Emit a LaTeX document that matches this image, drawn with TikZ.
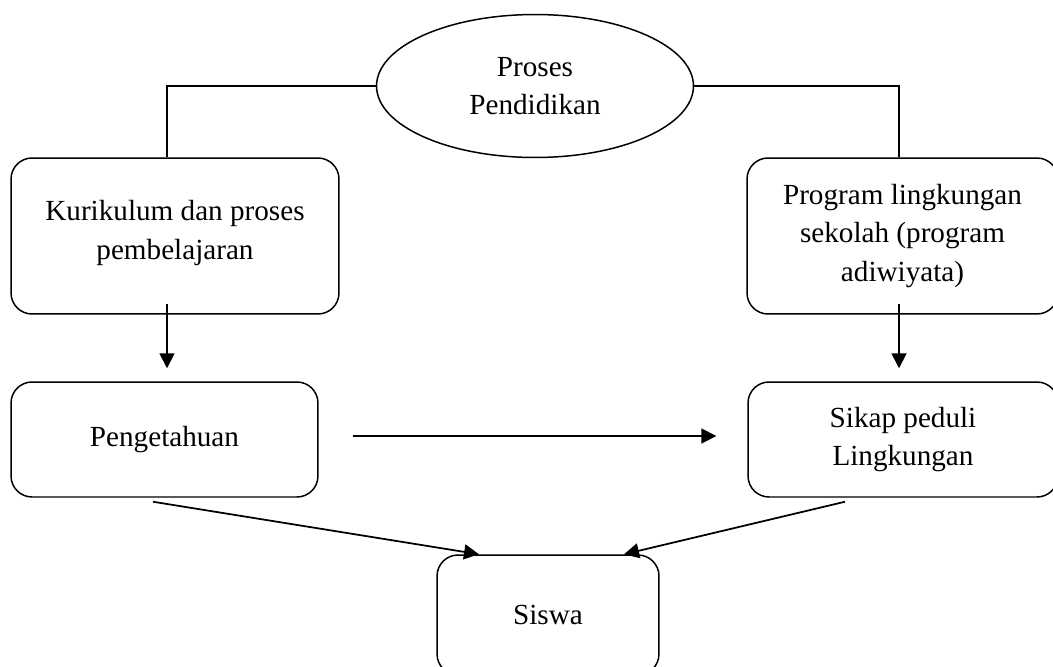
\documentclass[tikz,border=0pt]{standalone}
\usepackage{fontspec}
\setmainfont{Liberation Serif}
\usetikzlibrary{shapes.geometric,arrows.meta}

\begin{document}
\begin{tikzpicture}[x=0.02cm,y=-0.02cm,
	txt/.style={align=center,inner sep=0pt,font=\fontsize{16.6}{22}\selectfont},
	box/.style={txt,draw,line width=0.85pt,rounded corners=0.42cm},
	arr/.style={line width=1pt,-{Triangle[length=0.3cm,width=0.3cm]}}]
			\useasboundingbox (0,0) rectangle (1053,666);
			\node[txt,draw,ellipse,line width=0.85pt,minimum width=6.34cm,minimum height=2.86cm] (proses) at (535,86) {Proses\\Pendidikan};
			\node[box,minimum width=6.56cm,minimum height=3.12cm] (kur) at (175,236) {\\[-14pt]Kurikulum dan proses\\pembelajaran};
			\node[box,minimum width=6.22cm,minimum height=3.12cm] (prog) at (902.5,236) {Program lingkungan\\sekolah (program\\adiwiyata)};
			\node[box,minimum width=6.14cm,minimum height=2.3cm] (peng) at (164.5,439.5) {Pengetahuan};
			\node[box,minimum width=6.2cm,minimum height=2.3cm] (sikap) at (903,439.5) {Sikap peduli\\Lingkungan};
			\node[box,minimum width=4.44cm,minimum height=2.4cm] (siswa) at (548,615) {Siswa};

			\coordinate (kl) at ([shift={(-8,0)}]kur.south);
			\coordinate (pr) at ([shift={(-3.5,0)}]prog.south);
			\coordinate (pe) at ([shift={(0,-3.5)}]peng.east);

			\draw[line width=0.85pt] (proses.west) -| ([shift={(-8,0)}]kur.north);
			\draw[line width=0.85pt] (proses.east) -| ([shift={(-3.5,0)}]prog.north);
			\draw[arr,shorten <=-0.22cm,shorten >=0.26cm] (kl) -- (kl |- peng.north);
			\draw[arr,shorten <=-0.22cm,shorten >=0.26cm] (pr) -- (pr |- sikap.north);
			\draw[arr,shorten <=0.68cm,shorten >=0.62cm] (pe) -- (pe -| sikap.west);
			\draw[arr] ([shift={(-11.5,4)}]peng.south) -- ([shift={(-69,0)}]siswa.north);
			\draw[arr] ([shift={(-58,4)}]sikap.south) -- ([shift={(76,0)}]siswa.north);
		\end{tikzpicture}
\end{document}
